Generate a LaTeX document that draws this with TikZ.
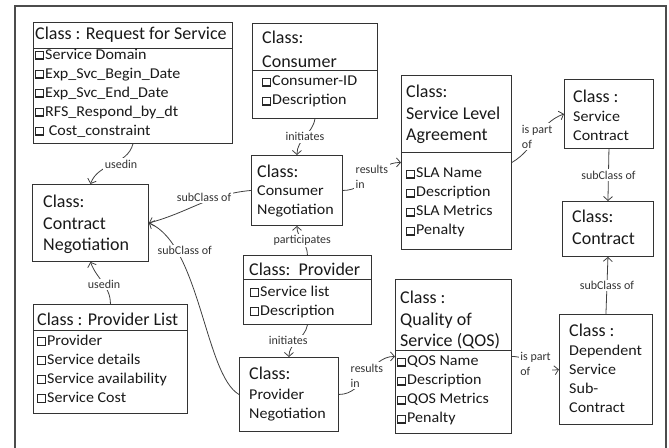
\documentclass[tikz,border=0pt]{standalone}
\usepackage{fontspec}
\setmainfont{Carlito}
\newfontfamily\itmfont{Carlito}[FakeStretch=1.07]
\usetikzlibrary{arrows.meta}
% small shadowed check box in front of each attribute
\newcommand\chk{\tikz[baseline=0pt]{\fill[black!85] (0,-0.8pt) rectangle (9pt,8.2pt);
  \fill[white] (1pt,1.1pt) rectangle (7.4pt,7.2pt);}\hspace{1pt}}
\tikzset{
  frame/.style={draw=black!70, line width=1.1pt},
  cls/.style={draw=black!80, line width=0.9pt, anchor=north west, inner sep=0pt},
  sep/.style={draw=black!80, line width=0.9pt},
  ttl/.style={anchor=north west, inner sep=0pt, align=left, text=black!90,
    font=\fontsize{18}{21.5}\selectfont},
  itm/.style={anchor=north west, inner sep=0pt, align=left, text=black!90,
    font=\itmfont\fontsize{15}{19}\selectfont},
  lbl/.style={fill=white, inner sep=1.5pt, align=left, text=black!80,
    font=\fontsize{12}{15}\selectfont},
  rel/.style={draw=black!75, line width=0.8pt, -{Straight Barb[length=4pt,width=9pt]}},
}
\begin{document}
\begin{tikzpicture}[x=1pt,y=1pt]
  \useasboundingbox (0,0) rectangle (669,-447);
  \draw[frame] (15,-6) rectangle (666,-460);

  % Request for Service
  \node[cls, minimum width=199pt, minimum height=121pt] (rfs) at (33,-22) {};
  \draw[sep] ([yshift=-26pt]rfs.north west) -- ([yshift=-26pt]rfs.north east);
  \node[ttl] at (35,-27) {Class : Request for Service};
  \node[itm] at (35,-49) {\chk Service Domain\\\chk Exp\_Svc\_Begin\_Date\\\chk Exp\_Svc\_End\_Date\\
    \chk RFS\_Respond\_by\_dt\\\chk\ Cost\_constraint};

  % Consumer
  \node[cls, minimum width=125pt, minimum height=95pt] (cons) at (252,-23) {};
  \draw[sep] ([yshift=-47pt]cons.north west) -- ([yshift=-47pt]cons.north east);
  \node[ttl] at (262,-31) {Class:\\[2pt]Consumer};
  \node[itm] at (262,-76) {\chk Consumer-ID\\\chk Description};

  % Service Level Agreement
  \node[cls, minimum width=110pt, minimum height=174pt] (sla) at (401,-75) {};
  \draw[sep] ([yshift=-77pt]sla.north west) -- ([yshift=-77pt]sla.north east);
  \node[ttl] at (406,-85) {Class:\\Service Level\\Agreement};
  \node[itm] at (406,-168) {\chk SLA Name\\\chk Description\\\chk SLA Metrics\\\chk Penalty};

  % Service Contract
  \node[cls, minimum width=89pt, minimum height=69pt] (sc) at (564,-79) {};
  \node[ttl] at (573,-90) {Class :};
  \node[itm] at (573,-111) {Service\\Contract};

  % Contract
  \node[cls, minimum width=91pt, minimum height=55pt] (ctr) at (562,-201) {};
  \node[ttl] at (572,-210) {Class:\\Contract};

  % Dependent Service Sub-Contract
  \node[cls, minimum width=93pt, minimum height=110pt] (dep) at (559,-314) {};
  \node[ttl] at (569,-324) {Class :};
  \node[itm] at (569,-345) {Dependent\\Service\\Sub-\\Contract};

  % Quality of Service
  \node[cls, minimum width=116pt, minimum height=154pt] (qos) at (395,-279) {};
  \draw[sep] ([yshift=-71pt]qos.north west) -- ([yshift=-71pt]qos.north east);
  \node[ttl] at (400,-291) {Class :\\Quality of\\Service (QOS)};
  \node[itm] at (397,-356) {\chk QOS Name\\\chk Description\\\chk QOS Metrics\\\chk Penalty};

  % Provider Negotiation
  \node[cls, minimum width=99pt, minimum height=74pt] (pneg) at (239,-357) {};
  \node[ttl] at (249,-367) {Class:};
  \node[itm] at (249,-389) {Provider\\Negotiation};

  % Provider
  \node[cls, minimum width=128pt, minimum height=69pt] (prov) at (243,-255) {};
  \draw[sep] ([yshift=-24pt]prov.north west) -- ([yshift=-24pt]prov.north east);
  \node[ttl] at (249,-263) {Class:\ \ Provider};
  \node[itm] at (250,-286) {\chk Service list\\\chk Description};

  % Consumer Negotiation
  \node[cls, minimum width=91pt, minimum height=70pt] (cneg) at (251,-155) {};
  \node[ttl] at (257,-165) {Class:};
  \node[itm] at (257,-186) {Consumer\\Negotiation};

  % Contract Negotiation
  \node[cls, minimum width=116pt, minimum height=77pt] (cn) at (32,-184) {};
  \node[ttl] at (43,-195) {Class:\\Contract\\Negotiation};

  % Provider List
  \node[cls, minimum width=154pt, minimum height=109pt] (pl) at (33,-304) {};
  \draw[sep] ([yshift=-26pt]pl.north west) -- ([yshift=-26pt]pl.north east);
  \node[ttl] at (37,-313) {Class : Provider List};
  \node[itm] at (37,-335) {\chk Provider\\\chk Service details\\\chk Service availability\\\chk Service Cost};

  % relations
  \draw[rel] (rfs.south) to[out=-105,in=70] node[lbl,pos=0.6,xshift=14pt,yshift=3pt]{usedin} (cn.north);
  \draw[rel] (pl.north) to[out=90,in=-70] node[lbl,pos=0.45]{usedin} (cn.south);
  \draw[rel] (cneg.west) to[out=185,in=15] node[lbl,pos=0.45,yshift=5pt]{subClass of} (cn.east);
  \draw[rel] (pneg.west) .. controls (205,-375) and (200,-245) .. node[lbl,pos=0.78,xshift=8pt]{subClass of} (cn.east);
  \draw[rel] (cons.south) to[out=-100,in=90] node[lbl]{initiates} (cneg.north);
  \draw[rel] (prov.north) to[out=90,in=-90] node[lbl]{participates} (cneg.south);
  \draw[rel] (prov.south) to[out=-100,in=90] node[lbl,xshift=-9pt]{initiates} (pneg.north);
  \draw[rel] (cneg.east) to[out=0,in=180] node[lbl]{results\\in} (sla.west);
  \draw[rel] (pneg.east) to[out=0,in=180] node[lbl]{results\\in} (qos.west);
  \draw[rel] (sla.east) to[out=30,in=200] node[lbl]{is part\\of} (sc.west);
  \draw[rel] (qos.east) to[out=0,in=190] node[lbl]{is part\\of} (dep.west);
  \draw[rel] (sc.south) -- node[lbl]{subClass of} (ctr.north);
  \draw[rel] (dep.north) -- node[lbl]{subClass of} (ctr.south);
\end{tikzpicture}
\end{document}
